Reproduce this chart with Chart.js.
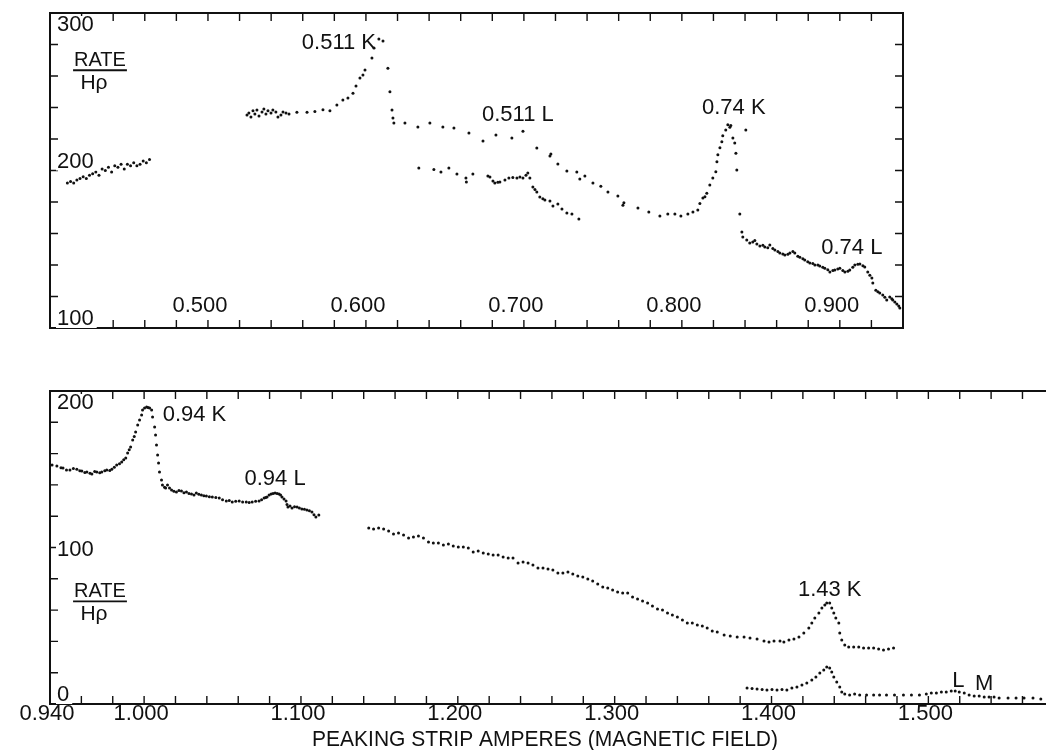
<!DOCTYPE html>
<html><head><meta charset="utf-8">
<script src="https://cdn.jsdelivr.net/npm/chart.js@4.4.1/dist/chart.umd.min.js"></script>
<style>
html,body{margin:0;padding:0;background:#fff;}
#wrap{position:relative;width:1050px;height:750px;overflow:hidden;background:#fff;}
canvas{position:absolute;left:0;top:0;}
</style></head><body>
<div id="wrap"><canvas id="topc" width="1050" height="750"></canvas><canvas id="botc" width="1050" height="750"></canvas></div>
<script>
// ---------- TOP PANEL DATA ----------
const topLeftX = [0.411,0.413,0.415,0.417,0.419,0.421,0.423,0.425,0.427,0.429,0.431,0.433,0.435,0.437,0.439,0.441,0.443,0.445,0.447,0.449,0.451,0.453,0.455,0.457,0.459,0.461,0.463];
const topLeftY = [192,193,192,194,195,196,195,197,198,199,197,201,200,202,199,203,202,204,201,204,203,205,203,204,206,205,207];

const topMainX = [0.5247,0.5259,0.5272,0.5285,0.5297,0.5310,0.5323,0.5342,0.5354,0.5367,0.5380,0.5399,0.5411,0.5430,0.5443,0.5462,0.5475,0.5494,0.5513,
  0.5563,0.5627,0.5677,0.5728,0.5772,0.5816,0.5854,0.5886,0.5918,0.5937,0.5962,0.5981,0.5994,0.6038,0.6051,0.6082,0.6108,
  0.6139,0.6152,0.6165,0.6171,0.6177,0.6247,0.6329,0.6405,0.6487,0.6557,0.6652,0.6741,0.6823,0.6924,0.6994,0.7082,0.7165,0.7171,
  0.7215,0.7272,0.7335,0.7354,0.7386,0.7437,0.7487,0.7532,0.7595,0.7627,0.7633,0.7722,0.7791,0.7861,0.7911,0.7956,0.7994,0.8038,
  0.8070,0.8101,0.8114,0.8133,0.8146,0.8158,0.8177,0.8196,0.8215,0.8222,0.8228,0.8241,0.8253,0.8259,0.8278,0.8291,0.8304,0.8310,
  0.8323,0.8335,0.8342,0.8348,0.8367,0.8380,0.8386,0.8405,
  0.8411,0.8430,0.8449,0.8462,0.8475,0.8494,0.8513,0.8525,0.8544,0.8557,0.8576,0.8589,0.8608,0.8620,0.8639,0.8652,0.8671,0.8684,
  0.8703,0.8715,0.8734,0.8747,0.8766,0.8778,0.8797,0.8810,0.8829,0.8842,0.8861,0.8873,0.8892,0.8905,0.8924,0.8937,0.8956,0.8968,
  0.8987,0.9000,0.9019,0.9032,0.9051,0.9063,0.9082,0.9095,0.9114,0.9127,0.9146,0.9158,0.9177,0.9190,0.9203,0.9209,0.9228,0.9241,
  0.9253,0.9272,0.9285,0.9297,0.9316,0.9329,0.9335,0.9348,0.9361,0.9373,0.9380];
const topMainY = [235.2,236.5,234.0,238.0,235.9,238.4,234.6,237.1,239.0,235.9,238.0,236.5,238.4,237.1,234.0,235.2,237.1,236.5,235.9,
  237.0,237.0,237.5,238.5,238.0,241.6,244.8,246.0,249.0,253.6,258.7,260.6,263.8,271.4,277.8,283.5,282.2,
  265.0,250.0,238.4,233.3,230.2,230.2,227.6,230.2,227.6,227.0,223.8,218.7,222.5,220.6,225.0,214.3,209.2,210.5,
  204.1,199.7,199.0,194.6,196.5,192.0,190.0,186.3,183.8,178.0,179.5,176.2,173.6,171.1,172.4,172.4,171.1,172.4,
  173.6,174.9,179.0,182.5,183.4,185.5,190.8,195.2,199.2,205.5,210.0,214.5,218.3,222.0,225.7,229.0,227.5,228.5,
  220.6,217.5,211.0,200.3,172.4,161.0,157.8,225.7,
  155.8,154.0,154.6,155.5,153.3,152.0,152.5,151.4,151.0,152.7,150.5,149.5,148.5,147.6,147.0,146.3,146.8,147.6,
  148.5,147.6,145.5,145.0,144.0,143.2,142.0,141.3,141.0,140.0,140.0,139.4,138.5,138.0,137.0,135.5,136.5,136.8,
  137.5,138.0,136.5,135.5,136.0,136.8,138.5,140.0,140.5,140.6,139.5,138.8,135.5,133.5,131.7,128.5,124.0,123.0,
  122.2,121.0,119.5,117.8,119.7,118.5,117.8,116.5,115.2,114.0,112.7];

const topLowX = [0.6335,0.6430,0.6475,0.6525,0.6576,0.6633,0.6636,0.6677,0.6772,0.6785,0.6804,0.6816,0.6835,0.6848,0.6880,0.6905,0.6930,0.6956,
  0.6975,0.6994,0.7013,0.7025,0.7038,0.7057,0.7070,0.7082,0.7101,0.7120,0.7133,0.7165,0.7184,0.7215,0.7241,0.7272,0.7304,0.7348];
const topLowY = [201.6,200.7,199.0,201.6,197.8,195.2,192.7,197.8,196.5,195.8,193.3,192.0,192.5,192.7,194.0,195.2,195.5,195.2,
  195.8,195.2,197.0,198.4,195.2,189.5,188.0,186.3,183.2,182.0,181.3,180.6,177.5,178.7,175.5,173.0,172.4,169.2];

const topXTicks = [0.42,0.44,0.46,0.48,0.50,0.52,0.54,0.56,0.58,0.60,0.62,0.64,0.66,0.68,0.70,0.72,0.74,0.76,0.78,0.80,0.82,0.84,0.86,0.88,0.90,0.92];
const topYTicks = [120,140,160,180,200,220,240,260,280];
const topXLabels = [0.5,0.6,0.7,0.8,0.9];
const topYLabels = [100,200,300];
const topNotes = ["0.511 K","0.511 L","0.74 K","0.74 L"];
const topNoteX = [0.5829,0.6962,0.8329,0.9076];
const topNoteY = [281,235.2,239.7,150.8];

// ---------- BOTTOM PANEL DATA ----------
const botLeftX = [0.9413,0.9444,0.9470,0.9483,0.9505,0.9527,0.9549,0.9571,0.9590,0.9603,0.9622,0.9635,0.9655,0.9667,0.9685,0.9698,0.9717,0.9730,
  0.9749,0.9762,0.9781,0.9794,0.9810,0.9825,0.9843,0.9857,0.9870,0.9883,0.9895,0.9905,0.9914,0.9927,0.9937,0.9946,0.9959,0.9971,
  0.9984,0.9990,1.0003,1.0016,1.0025,1.0035,1.0048,1.0054,1.0067,1.0073,1.0079,1.0086,1.0092,1.0098,1.0111,1.0117,1.0130,1.0137,
  1.0149,1.0162,1.0175,1.0190,1.0206,1.0222,1.0238,1.0254,1.0270,1.0286,1.0302,1.0318,1.0333,1.0349,1.0365,1.0381,1.0397,1.0416,
  1.0435,1.0457,1.0479,1.0500,1.0524,1.0543,1.0562,1.0584,1.0606,1.0628,1.0651,1.0670,1.0689,1.0711,1.0733,1.0749,1.0765,1.0775,
  1.0784,1.0797,1.0810,1.0822,1.0835,1.0848,1.0860,1.0870,1.0879,1.0892,1.0905,1.0911,1.0917,1.0930,1.0943,1.0959,1.0975,1.0990,
  1.1006,1.1022,1.1038,1.1054,1.1070,1.1083,1.1095,1.1114];
const botLeftY = [152.7,152.0,151.0,150.8,149.6,149.5,150.4,150.0,149.0,148.9,148.0,148.2,147.5,147.0,148.5,148.2,147.8,148.2,
  149.0,149.5,149.2,150.0,151.2,152.7,153.5,154.6,156.0,157.2,160.4,162.5,164.2,168.7,171.0,173.8,178.3,181.5,
  184.7,187.9,189.1,189.8,189.5,189.1,187.9,183.4,177.0,171.9,165.5,159.1,154.0,148.2,143.1,139.9,138.5,138.0,
  139.9,138.0,136.7,136.0,135.5,136.5,136.1,135.0,135.5,134.5,134.2,133.6,134.8,134.0,133.5,133.0,132.9,132.5,
  132.3,132.0,131.6,130.5,129.7,130.0,129.1,129.5,129.7,129.0,129.1,128.8,129.1,129.5,129.7,130.5,131.6,132.0,
  132.3,133.5,134.2,134.5,134.8,134.5,134.2,133.5,132.3,131.0,129.7,127.5,125.9,126.5,125.2,126.0,125.9,125.3,
  124.6,124.5,124.0,123.5,122.7,121.0,119.5,120.8];

const botMidX = [1.1432,1.1463,1.1495,1.1527,1.1559,1.1590,1.1622,1.1654,1.1686,1.1717,1.1749,1.1781,1.1813,1.1844,1.1876,1.1908,1.1940,1.1971,
  1.2003,1.2035,1.2067,1.2098,1.2130,1.2162,1.2194,1.2225,1.2257,1.2289,1.2321,1.2352,1.2384,1.2416,1.2448,1.2479,1.2511,1.2543,
  1.2575,1.2606,1.2638,1.2670,1.2702,1.2733,1.2765,1.2797,1.2829,1.2860,1.2892,1.2924,1.2956,1.2987,1.3019,1.3051,1.3083,1.3114,
  1.3146,1.3178,1.3210,1.3241,1.3273,1.3305,1.3337,1.3368,1.3400,1.3432,1.3463,1.3495,1.3527,1.3559,1.3590,1.3622,1.3654,1.3698,
  1.3737,1.3781,1.3825,1.3863,1.3908,1.3952,1.3984,1.4016,1.4054,1.4079,1.4111,1.4143,1.4175,1.4206,1.4238,1.4257,1.4276,1.4302,
  1.4321,1.4340,1.4352,1.4371,1.4384,1.4397,1.4410,1.4429,1.4435,1.4448,1.4467,1.4492,1.4524,1.4556,1.4587,1.4619,1.4651,1.4683,
  1.4714,1.4746,1.4778];
const botMidY = [112.5,111.9,112.5,111.9,110.5,108.6,109.3,108.0,106.1,106.7,107.3,106.1,103.5,102.9,102.9,101.6,102.2,101.0,
  100.3,100.3,99.7,97.1,97.8,96.5,95.8,95.2,95.2,93.9,93.3,93.3,90.1,90.7,90.1,88.8,86.9,86.9,
  86.3,85.6,83.7,83.7,84.3,83.1,81.8,81.1,79.9,78.6,76.7,74.7,74.1,72.8,71.6,70.9,70.9,68.4,
  67.1,65.8,64.5,62.6,60.7,60.0,58.1,56.8,55.6,53.7,51.8,51.8,50.5,49.9,48.6,46.7,46.0,44.1,
  43.4,42.8,42.8,42.2,41.5,40.3,39.6,40.3,40.3,39.6,40.9,41.5,42.8,45.4,48.6,51.8,55.0,58.1,
  61.3,63.2,64.5,64.5,61.3,58.1,55.0,51.8,45.4,40.9,37.7,36.4,36.4,36.4,35.8,35.8,35.8,35.1,
  34.5,35.1,35.8];

const botLowX = [1.3844,1.3876,1.3908,1.3940,1.3971,1.4003,1.4035,1.4067,1.4098,1.4130,1.4162,1.4194,1.4225,1.4257,1.4283,1.4308,1.4333,1.4352,
  1.4371,1.4384,1.4397,1.4416,1.4435,1.4448,1.4467,1.4498,1.4530,1.4562,1.4606,1.4651,1.4689,1.4733,1.4784,1.4841,1.4892,1.4943,
  1.4987,1.5019,1.5051,1.5083,1.5114,1.5146,1.5171,1.5197,1.5229,1.5260,1.5292,1.5324,1.5356,1.5387,1.5419,1.5451,1.5508,1.5559,
  1.5610,1.5667,1.5717];
const botLowY = [10.2,9.9,9.6,9.2,8.9,9.2,8.9,9.2,8.9,10.2,10.9,12.1,13.4,15.3,17.2,19.8,21.7,23.6,
  23.0,20.4,17.2,14.0,10.9,7.7,6.4,5.8,6.4,5.8,5.8,5.8,5.8,5.8,5.8,5.8,5.8,5.8,
  6.4,7.0,7.0,7.7,7.7,8.3,8.3,7.7,7.0,5.8,5.1,5.1,4.5,4.5,4.5,3.8,3.8,3.8,
  3.8,3.8,3.2];

const botXTicks = [0.96,0.98,1.00,1.02,1.04,1.06,1.08,1.10,1.12,1.14,1.16,1.18,1.20,1.22,1.24,1.26,1.28,1.30,1.32,1.34,1.36,1.38,1.40,1.42,1.44,1.46,1.48,1.50,1.52,1.54,1.56];
const botYTicks = [20,40,60,80,100,120,140,160,180];
const botXLabels = [0.94,1.0,1.1,1.2,1.3,1.4,1.5];
const botYLabels = [0,100,200];
const botNotes = ["0.94 K","0.94 L","1.43 K","L","M"];
const botNoteX = [1.0321,1.0835,1.4371,1.5191,1.5356];
const botNoteY = [184.7,143.8,72.8,14.7,12.8];
const xAxisTitle = "PEAKING STRIP AMPERES (MAGNETIC FIELD)";

// ---------- DRAWING ----------
const FONT = "'Liberation Sans', Arial, sans-serif";
const INK = '#111111';

function pts(xs, ys) { return xs.map((x, i) => ({x: x, y: ys[i]})); }

function makeFrame(cfg) {
  return {
    id: 'frame_' + cfg.name,
    afterDraw(chart) {
      const ctx = chart.ctx, a = chart.chartArea;
      const sx = chart.scales.x, sy = chart.scales.y;
      ctx.save();
      ctx.strokeStyle = INK; ctx.fillStyle = INK;
      ctx.lineWidth = 2;
      ctx.beginPath();
      ctx.moveTo(a.left, a.top); ctx.lineTo(a.right, a.top);
      ctx.moveTo(a.left, a.bottom); ctx.lineTo(a.right, a.bottom);
      ctx.moveTo(a.left, a.top - 1); ctx.lineTo(a.left, a.bottom + 1);
      if (cfg.rightBorder) { ctx.moveTo(a.right, a.top - 1); ctx.lineTo(a.right, a.bottom + 1); }
      ctx.stroke();
      ctx.lineWidth = 1.4;
      ctx.beginPath();
      cfg.xTicks.forEach(v => {
        const p = sx.getPixelForValue(v);
        ctx.moveTo(p, a.top); ctx.lineTo(p, a.top + 8);
        ctx.moveTo(p, a.bottom); ctx.lineTo(p, a.bottom - 8);
      });
      cfg.yTicks.forEach(v => {
        const p = sy.getPixelForValue(v);
        ctx.moveTo(a.left, p); ctx.lineTo(a.left + 8, p);
        if (cfg.rightBorder) { ctx.moveTo(a.right, p); ctx.lineTo(a.right - 8, p); }
      });
      ctx.stroke();

      // y labels (inside)
      ctx.font = '22px ' + FONT;
      ctx.textAlign = 'left'; ctx.textBaseline = 'middle';
      cfg.yLabels.forEach(v => {
        const p = sy.getPixelForValue(v);
        let y;
        if (v === sy.max) y = p + 12;
        else if (v === sy.min) y = p - 9;
        else y = p + cfg.midYOffset;
        const t = String(v);
        const w = ctx.measureText(t).width;
        ctx.fillStyle = '#fff';
        ctx.fillRect(a.left + 6, y - 9, w + 4, 18);
        ctx.fillStyle = INK;
        ctx.fillText(t, a.left + 7, y);
      });

      // x labels
      ctx.textAlign = 'center';
      cfg.xLabels.forEach(v => {
        const p = sx.getPixelForValue(v);
        const y = cfg.xLabelsInside ? a.bottom - 22 : a.bottom + 10;
        ctx.fillText(v.toFixed(3), p + cfg.xLabelShift, y);
      });

      // annotations
      cfg.notes.forEach((t, i) => {
        ctx.fillText(t, sx.getPixelForValue(cfg.noteX[i]), sy.getPixelForValue(cfg.noteY[i]));
      });

      // RATE / H rho
      const rx = a.left + 50, ry = sy.getPixelForValue(cfg.rateY);
      ctx.font = '20px ' + FONT;
      ctx.fillText('RATE', rx, ry);
      const rw = ctx.measureText('RATE').width;
      ctx.lineWidth = 1.8;
      ctx.beginPath(); ctx.moveTo(rx - rw / 2 - 1, ry + 10); ctx.lineTo(rx + rw / 2 + 1, ry + 10); ctx.stroke();
      ctx.font = '21px ' + FONT;
      ctx.fillText('H\u03C1', rx - 6, ry + 23);

      if (cfg.title) {
        ctx.font = '22px ' + FONT;
        ctx.fillText(cfg.title, 545, 740, 466);
      }
      ctx.restore();
    }
  };
}

function baseOptions(xmin, xmax, ymin, ymax, pad) {
  return {
    responsive: false, animation: false, devicePixelRatio: 1, events: [],
    layout: { padding: pad },
    plugins: { legend: { display: false }, tooltip: { enabled: false } },
    scales: {
      x: { type: 'linear', min: xmin, max: xmax, display: false },
      y: { type: 'linear', min: ymin, max: ymax, display: false }
    }
  };
}

function ds(data) {
  return { data: data, pointRadius: 1.5, pointBorderWidth: 0, pointBackgroundColor: INK, showLine: false };
}

new Chart(document.getElementById('topc'), {
  type: 'scatter',
  data: { datasets: [ds(pts(topLeftX, topLeftY)), ds(pts(topMainX, topMainY)), ds(pts(topLowX, topLowY))] },
  options: baseOptions(0.40, 0.94, 100, 300, { left: 50, top: 13, right: 147, bottom: 422 }),
  plugins: [makeFrame({ name: 'top', rightBorder: true, xTicks: topXTicks, yTicks: topYTicks,
    xLabels: topXLabels, yLabels: topYLabels, xLabelsInside: true, xLabelShift: -8, midYOffset: -9,
    notes: topNotes, noteX: topNoteX, noteY: topNoteY, rateY: 270 })]
});

new Chart(document.getElementById('botc'), {
  type: 'scatter',
  data: { datasets: [ds(pts(botLeftX, botLeftY)), ds(pts(botMidX, botMidY)), ds(pts(botLowX, botLowY))] },
  options: baseOptions(0.94, 1.575, 0, 200, { left: 50, top: 391, right: 0, bottom: 46 }),
  plugins: [makeFrame({ name: 'bot', rightBorder: false, xTicks: botXTicks, yTicks: botYTicks,
    xLabels: botXLabels, yLabels: botYLabels, xLabelsInside: false, xLabelShift: -3, midYOffset: 2,
    notes: botNotes, noteX: botNoteX, noteY: botNoteY, rateY: 72, title: xAxisTitle })]
});
</script></body></html>
